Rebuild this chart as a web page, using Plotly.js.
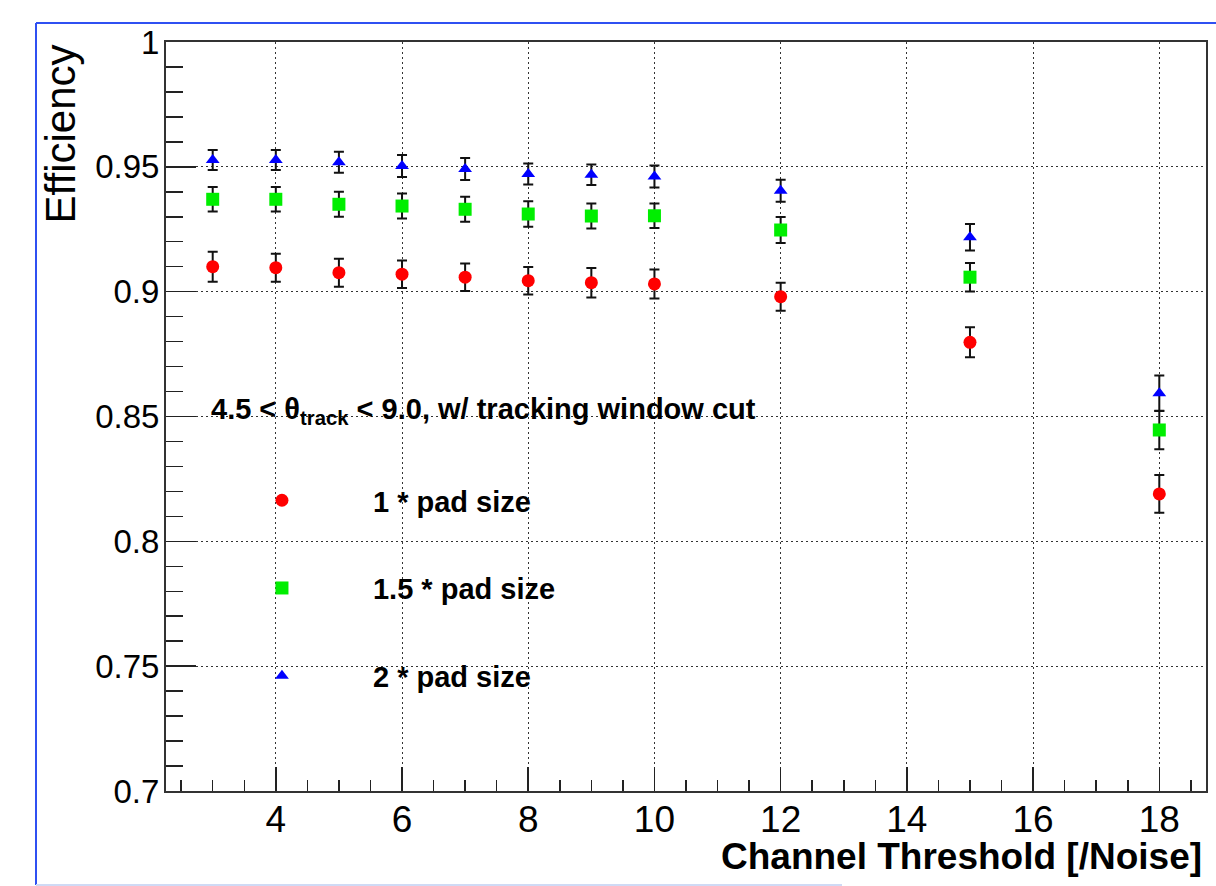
<!DOCTYPE html>
<html>
<head>
<meta charset="utf-8">
<script src="https://cdn.plot.ly/plotly-3.0.1.min.js"></script>
<style>
html,body{margin:0;padding:0;background:#fff;}
#chart{width:1216px;height:886px;}
</style>
</head>
<body>
<div id="chart"></div>
<script>
// Channel threshold values (x)
const thresholds = [3, 4, 5, 6, 7, 8, 9, 10, 12, 15, 18];

// 1 * pad size
const eff1 = [0.9100, 0.9096, 0.9076, 0.9070, 0.9058, 0.9044, 0.9036, 0.9031, 0.8980, 0.8797, 0.8190];
const err1 = [0.0060, 0.0056, 0.0056, 0.0055, 0.0055, 0.0055, 0.0059, 0.0058, 0.0056, 0.0060, 0.0076];

// 1.5 * pad size
const eff15 = [0.9370, 0.9370, 0.9350, 0.9343, 0.9330, 0.9311, 0.9303, 0.9304, 0.9247, 0.9058, 0.8446];
const err15 = [0.0049, 0.0049, 0.0050, 0.0050, 0.0050, 0.0051, 0.0050, 0.0049, 0.0052, 0.0057, 0.0077];

// 2 * pad size
const eff2 = [0.9527, 0.9527, 0.9518, 0.9503, 0.9491, 0.9471, 0.9468, 0.9461, 0.9404, 0.9218, 0.8593];
const err2 = [0.0040, 0.0040, 0.0042, 0.0044, 0.0044, 0.0042, 0.0041, 0.0044, 0.0044, 0.0053, 0.0071];

const seriesNames = ['1 * pad size', '1.5 * pad size', '2 * pad size'];

const xTickVals = [4, 6, 8, 10, 12, 14, 16, 18];
const xTickText = ['4', '6', '8', '10', '12', '14', '16', '18'];
const yTickVals = [0.7, 0.75, 0.8, 0.85, 0.9, 0.95, 1.0];
const yTickText = ['0.7', '0.75', '0.8', '0.85', '0.9', '0.95', '1'];

const FONT = 'Liberation Sans, Arial, Helvetica, sans-serif';

function mk(name, y, err, color, symbol, size, group) {
  return {
    type: 'scatter', mode: 'markers', name: name,
    x: thresholds, y: y, legendgroup: group,
    marker: {color: color, symbol: symbol, size: size, line: {width: 0}},
    error_y: {type: 'data', array: err, visible: true, color: '#111', thickness: 2, width: 5},
    hoverinfo: 'x+y'
  };
}

const traces = [
  mk(seriesNames[0], eff1, err1, '#ff0000', 'circle', 13, 'g1'),
  mk(seriesNames[1], eff15, err15, '#00ee00', 'square', 13, 'g2'),
  mk(seriesNames[2], eff2, err2, '#0000ff', 'triangle-up', 12, 'g3')
];

const layout = {
  width: 1216, height: 886,
  margin: {l: 166, r: 10, t: 42, b: 95},
  paper_bgcolor: '#ffffff', plot_bgcolor: '#ffffff',
  font: {family: FONT, color: '#000'},
  showlegend: true,
  legend: {
    x: 0.024, y: 0.422, xanchor: 'left', yanchor: 'top',
    bgcolor: 'rgba(0,0,0,0)', borderwidth: 0,
    font: {family: FONT, size: 29, color: '#000', weight: 'bold'},
    itemwidth: 172, tracegroupgap: 47, traceorder: 'grouped'
  },
  xaxis: {
    range: [2.26, 18.74],
    tickmode: 'array', tickvals: xTickVals, ticktext: xTickText,
    ticks: 'inside', ticklen: 24, tickwidth: 1.5, tickcolor: '#222',
    minor: {dtick: 0.5, ticks: 'inside', ticklen: 11, tickwidth: 1.5, tickcolor: '#222', showgrid: false},
    showgrid: true, gridcolor: '#333', griddash: '2px,3px', gridwidth: 1,
    showline: true, linecolor: '#333', linewidth: 2, mirror: true,
    zeroline: false,
    tickfont: {family: FONT, size: 37, color: '#000'},
    ticklabelstandoff: -5
  },
  yaxis: {
    range: [0.7, 1.0],
    tickmode: 'array', tickvals: yTickVals, ticktext: yTickText,
    ticks: 'inside', ticklen: 30, tickwidth: 1.5, tickcolor: '#222',
    minor: {dtick: 0.01, tick0: 0.7, ticks: 'inside', ticklen: 17, tickwidth: 1.5, tickcolor: '#222', showgrid: false},
    showgrid: true, gridcolor: '#333', griddash: '2px,3px', gridwidth: 1,
    showline: true, linecolor: '#333', linewidth: 2, mirror: true,
    zeroline: false,
    tickfont: {family: FONT, size: 33, color: '#000'},
    ticklabelstandoff: -2
  },
  annotations: [
    {
      text: '<b>4.5 &lt; θ<sub>track</sub> &lt; 9.0, w/ tracking window cut</b>',
      xref: 'paper', yref: 'paper', x: 0.0415, y: 0.5073,
      xanchor: 'left', yanchor: 'middle', showarrow: false,
      font: {family: FONT, size: 29, color: '#000'}
    },
    {
      text: '<b>Channel Threshold [/Noise]</b>',
      xref: 'paper', yref: 'paper', x: 0.9985, y: -0.088,
      xanchor: 'right', yanchor: 'middle', showarrow: false,
      font: {family: FONT, size: 37, color: '#000'}
    },
    {
      text: 'Efficiency',
      xref: 'paper', yref: 'paper', x: -0.101, y: 1.0,
      xanchor: 'center', yanchor: 'top', showarrow: false, textangle: -90,
      font: {family: FONT, size: 42, color: '#000'}
    }
  ],
  shapes: [
    {type: 'line', xref: 'paper', yref: 'paper', x0: -0.125, x1: -0.125, y0: -0.1255, y1: 1.0254,
     line: {color: '#2f50f2', width: 2}},
    {type: 'line', xref: 'paper', yref: 'paper', x0: -0.125, x1: 1.02, y0: 1.0254, y1: 1.0254,
     line: {color: '#2f50f2', width: 2}},
    {type: 'line', xref: 'paper', yref: 'paper', x0: -0.125, x1: 0.65, y0: -0.1255, y1: -0.1255,
     line: {color: '#cfdaf5', width: 2}}
  ]
};

Plotly.newPlot('chart', traces, layout, {displayModeBar: false, staticPlot: true});
</script>
</body>
</html>
